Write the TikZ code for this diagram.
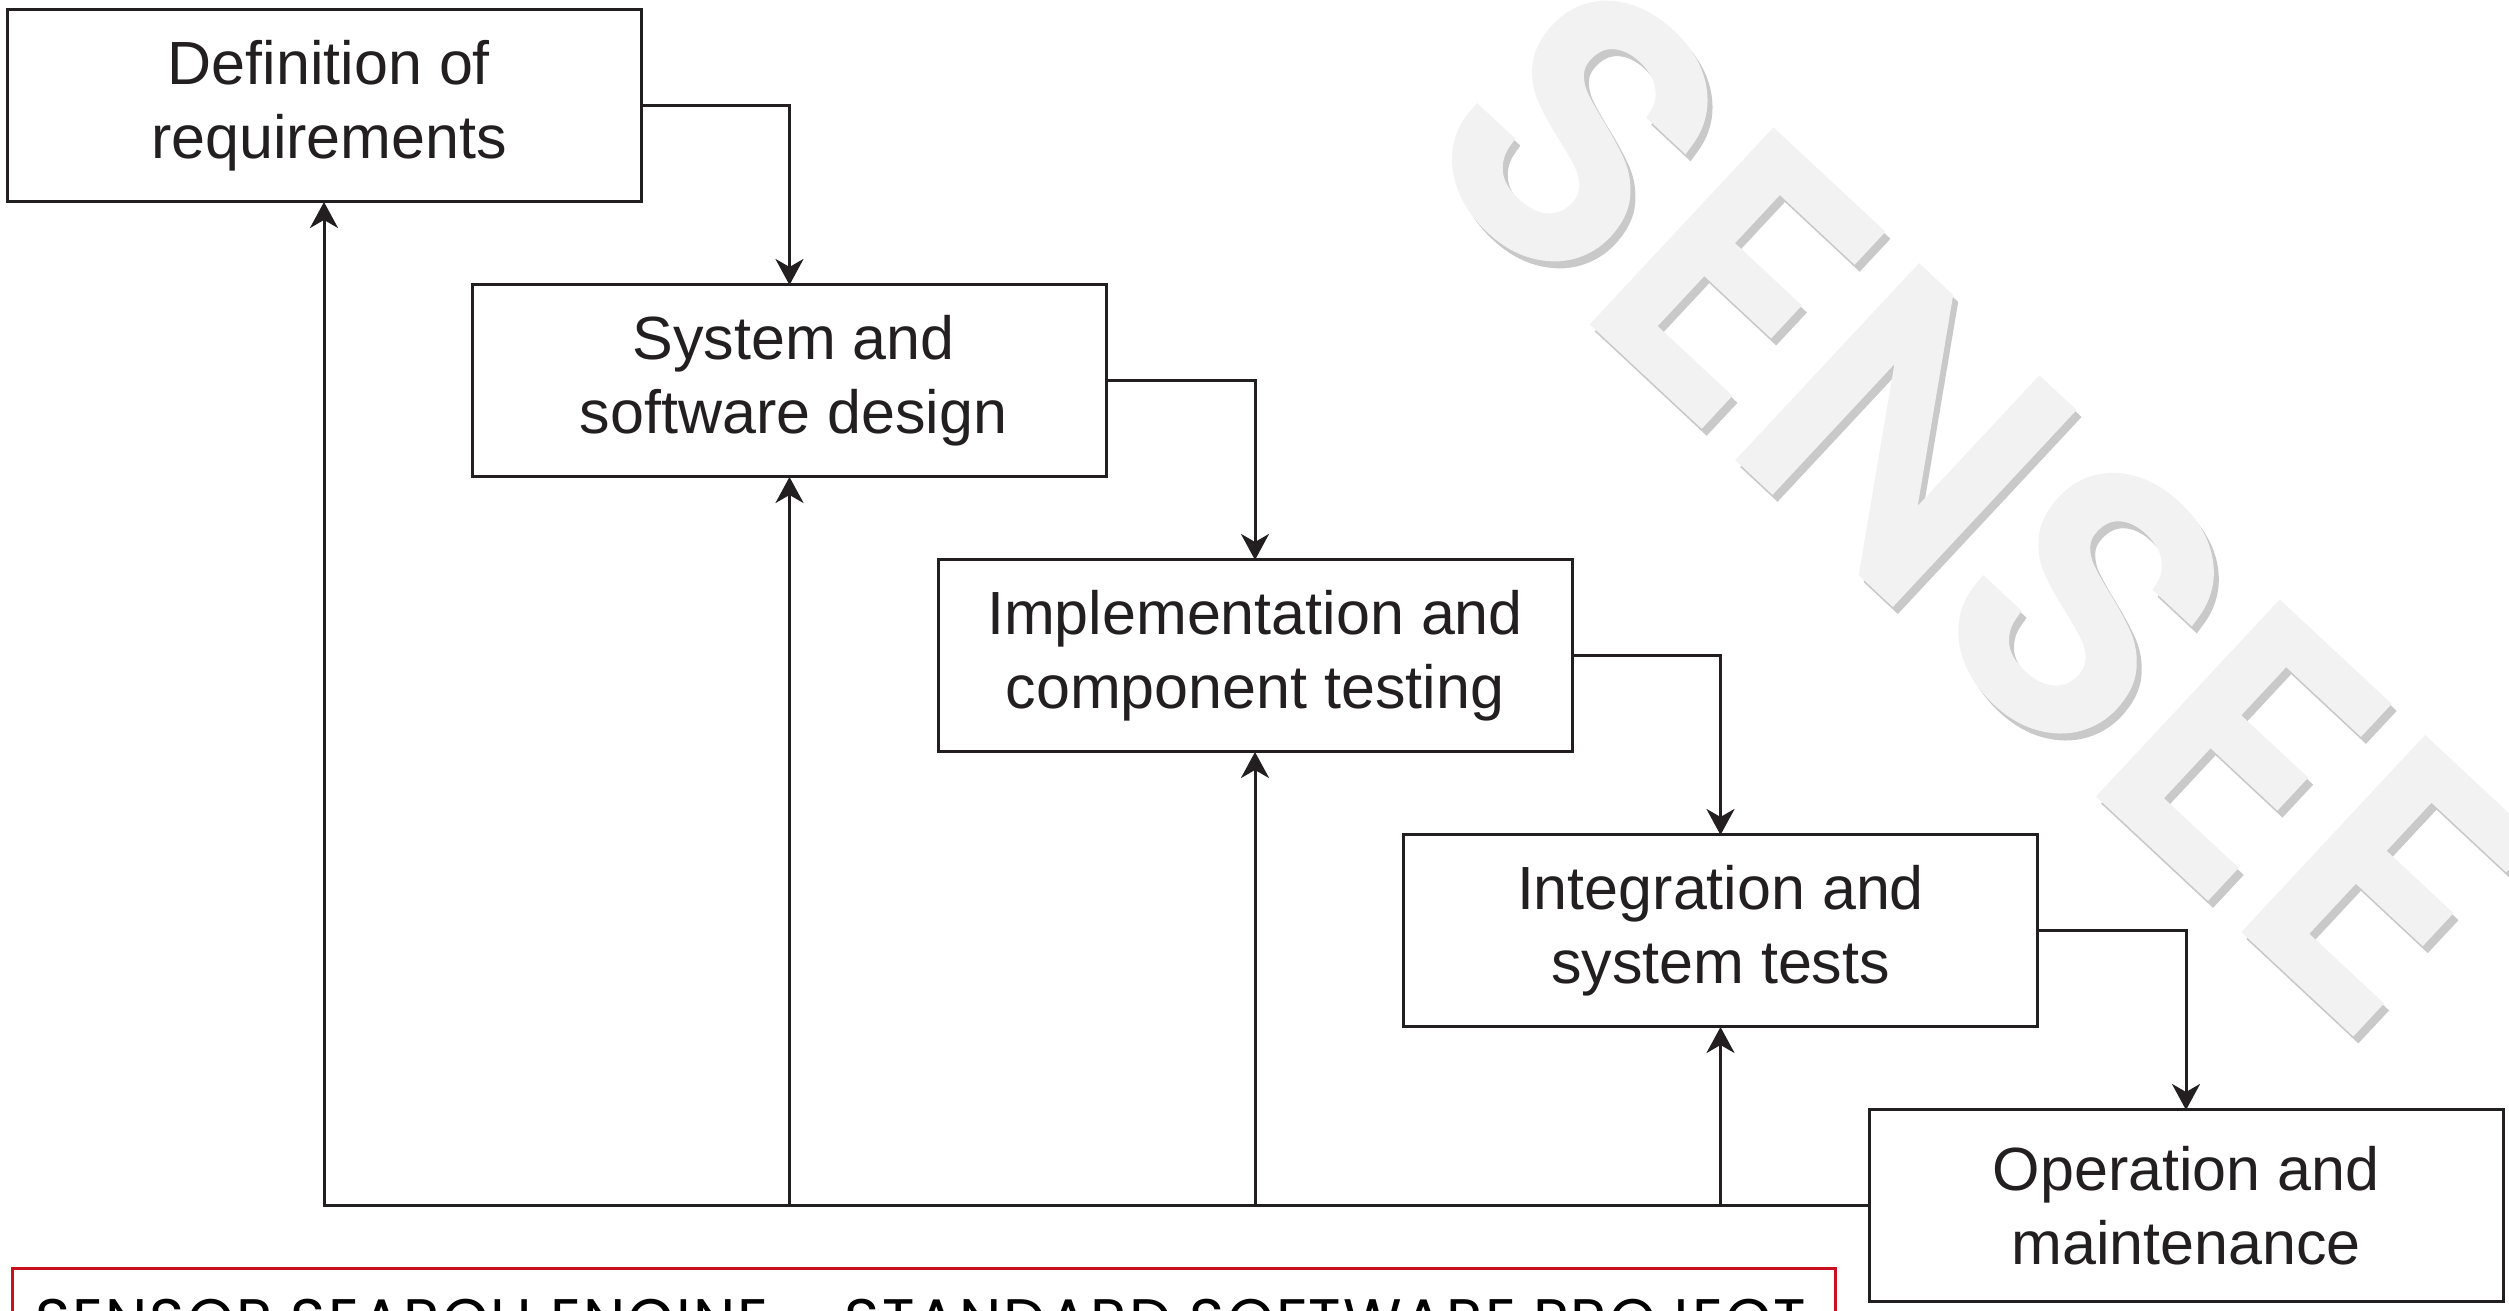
\documentclass[tikz,border=0pt]{standalone}
\usepackage{fontspec}
\setmainfont{Liberation Sans}
\newfontfamily\markfont[FakeBold=5, LetterSpace=4]{Poppins}
\newfontfamily\footfont[LetterSpace=3.5]{Poppins}
\usepackage{tikz}
\usetikzlibrary{arrows.meta, positioning}
\definecolor{ink}{HTML}{231F20}
\definecolor{framered}{HTML}{C8101E}
\definecolor{markgray}{HTML}{F2F2F2}

\begin{document}
\begin{tikzpicture}[
  x=1pt, y=1pt,
  stage/.style={
    rectangle, draw=ink, line width=3pt, outer sep=0pt,
    minimum width=634pt, minimum height=192pt,
    align=center, text=ink, font=\fontsize{61}{74}\selectfont
  },
  arr/.style={-{Stealth[length=26pt, width=28pt, inset=8pt]}, line width=3pt, draw=ink},
  wmark/.style={font=\markfont\fontsize{360}{360}\selectfont, rotate=-43, inner sep=0pt}
]
\useasboundingbox (0,0) rectangle (2509,1311);
\clip (0,0) rectangle (2509,1311);
\fill[white] (0,0) rectangle (2509,1311);

\node[stage] at (324,1205) (s1) {\hspace*{10pt}Definition of\\\hspace*{10pt}requirements};
\node[stage, below=83pt of s1, xshift=465.5pt] (s2) {\hspace*{8pt}System and\\\hspace*{8pt}software design};
\node[stage, below=83pt of s2, xshift=465.5pt] (s3) {Implementation and\\component testing};
\node[stage, below=83pt of s3, xshift=465.5pt] (s4) {Integration and\\system tests};
\node[stage, below=83pt of s4, xshift=465.5pt] (s5) {Operation and\\maintenance};

\draw[arr] (s1.east) -| (s2.north);
\draw[arr] (s2.east) -| (s3.north);
\draw[arr] (s3.east) -| (s4.north);
\draw[arr] (s4.east) -| (s5.north);

\draw[arr] (s5.west) -| (s1.south);
\draw[arr] (s5.west -| s2.south) -- (s2.south);
\draw[arr] (s5.west -| s3.south) -- (s3.south);
\draw[arr] (s5.west -| s4.south) -- (s4.south);

\draw[framered, line width=3pt] (12,42) rectangle (1835,-40);
\node[anchor=base west, inner sep=0pt, text=black, font=\footfont\fontsize{60}{60}\selectfont] (footer) at (35,-31) {SENSOR SEARCH ENGINE – STANDARD SOFTWARE PROJECT};

\node[wmark, text=gray!70, opacity=0.6] (shade) at (1984,801) {SENSEE};
\node[wmark, text=markgray] (mark) at (1979,808) {SENSEE};
\end{tikzpicture}
\end{document}
